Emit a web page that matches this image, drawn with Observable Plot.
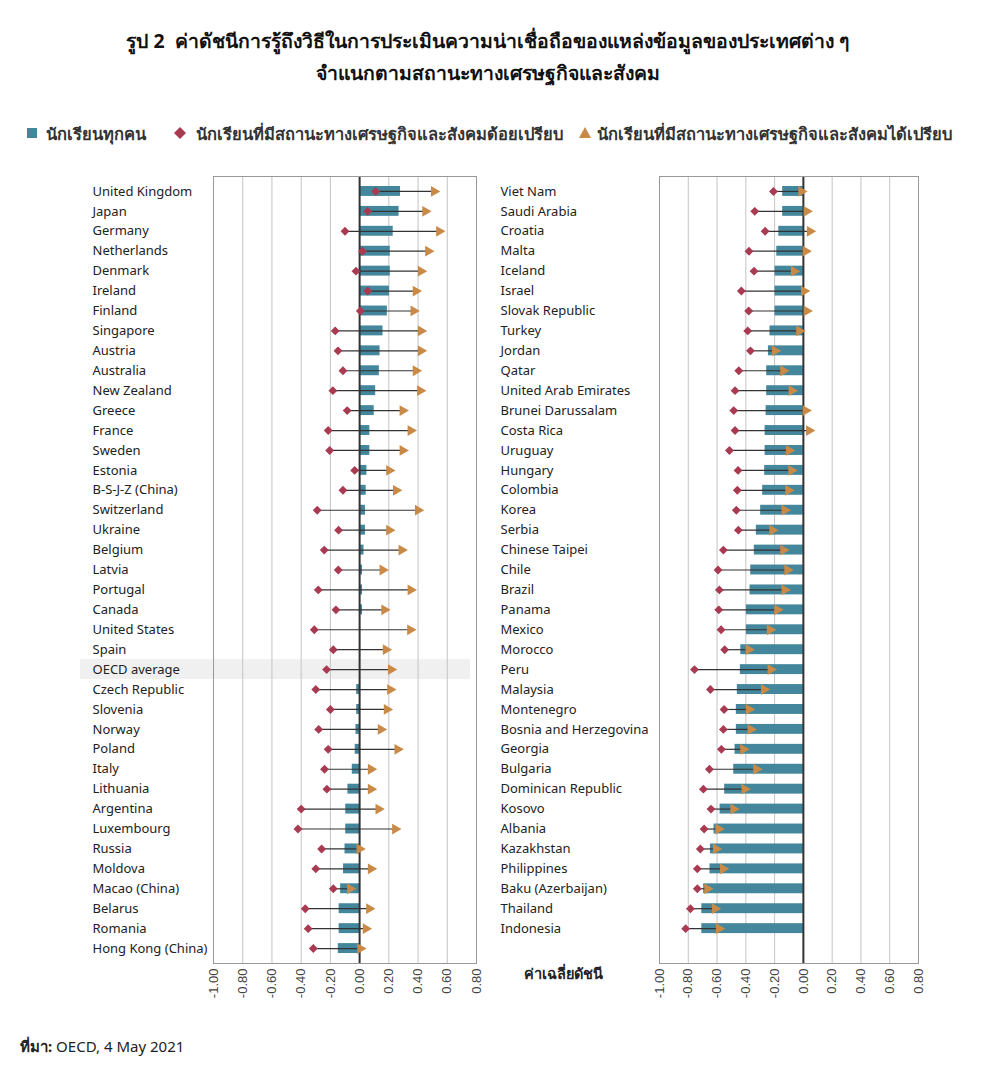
<!DOCTYPE html>
<html><head><meta charset="utf-8">
<script src="https://cdn.jsdelivr.net/npm/d3@7"></script>
<script src="https://cdn.jsdelivr.net/npm/@observablehq/plot@0.6"></script>
<style>
body{margin:0;background:#fff;font-family:"Noto Sans",sans-serif;color:#222;}
#wrap{position:relative;width:999px;height:1077px;overflow:hidden;}
.title{position:absolute;left:0;width:975px;text-align:center;font-weight:bold;font-size:19.4px;color:#111;white-space:nowrap;}
.lg{position:absolute;top:121px;font-size:16.5px;font-weight:600;color:#333;white-space:nowrap;}
.sw{position:absolute;}
</style></head><body>
<div id="wrap">
<div class="title" style="top:26px">รูป 2&nbsp; ค่าดัชนีการรู้ถึงวิธีในการประเมินความน่าเชื่อถือของแหล่งข้อมูลของประเทศต่าง ๆ</div>
<div class="title" style="top:58px">จำแนกตามสถานะทางเศรษฐกิจและสังคม</div>
<svg class="sw" style="left:26px;top:127px" width="12" height="12"><rect x="1" y="1" width="10" height="10" fill="#44879c"/></svg>
<div class="lg" style="left:46px">นักเรียนทุกคน</div>
<svg class="sw" style="left:173px;top:126px" width="14" height="14"><path d="M7,1L13,7L7,13L1,7Z" fill="#a83a52"/></svg>
<div class="lg" style="left:196px">นักเรียนที่มีสถานะทางเศรษฐกิจและสังคมด้อยเปรียบ</div>
<svg class="sw" style="left:578px;top:126px" width="14" height="13"><path d="M7,1L13,12L1,12Z" fill="#c98a47"/></svg>
<div class="lg" style="left:597px">นักเรียนที่มีสถานะทางเศรษฐกิจและสังคมได้เปรียบ</div>
<div id="left" style="position:absolute;left:0;top:170px"></div>
<div id="right" style="position:absolute;left:490px;top:170px"></div>
<div style="position:absolute;left:524px;top:962px;font-size:14.5px;font-weight:bold;color:#222">ค่าเฉลี่ยดัชนี</div>
<div style="position:absolute;left:20px;top:1035px;font-size:15px;color:#222"><b>ที่มา:</b> OECD, 4 May 2021</div>
</div>
<script>
const xTicks = [-1.0,-0.8,-0.6,-0.4,-0.2,0.0,0.2,0.4,0.6,0.8];

const leftCountries = ["United Kingdom","Japan","Germany","Netherlands","Denmark","Ireland","Finland","Singapore","Austria","Australia","New Zealand","Greece","France","Sweden","Estonia","B-S-J-Z (China)","Switzerland","Ukraine","Belgium","Latvia","Portugal","Canada","United States","Spain","OECD average","Czech Republic","Slovenia","Norway","Poland","Italy","Lithuania","Argentina","Luxembourg","Russia","Moldova","Macao (China)","Belarus","Romania","Hong Kong (China)"];
const leftAll = [0.28,0.27,0.23,0.21,0.21,0.205,0.19,0.16,0.14,0.135,0.11,0.10,0.07,0.07,0.05,0.045,0.04,0.04,0.03,0.02,0.02,0.02,0.005,0.0,0.0,-0.02,-0.02,-0.025,-0.03,-0.05,-0.08,-0.095,-0.095,-0.10,-0.11,-0.13,-0.14,-0.14,-0.146];
const leftDis = [0.11,0.055,-0.10,0.02,-0.025,0.055,0.005,-0.167,-0.148,-0.114,-0.183,-0.085,-0.215,-0.205,-0.034,-0.114,-0.29,-0.144,-0.242,-0.146,-0.283,-0.162,-0.31,-0.18,-0.226,-0.30,-0.20,-0.28,-0.215,-0.24,-0.224,-0.40,-0.422,-0.26,-0.30,-0.18,-0.372,-0.352,-0.317];
const leftAdv = [0.51,0.45,0.545,0.47,0.42,0.385,0.37,0.42,0.42,0.385,0.415,0.295,0.35,0.295,0.203,0.25,0.40,0.203,0.288,0.158,0.35,0.17,0.347,0.18,0.215,0.21,0.187,0.146,0.26,0.078,0.078,0.13,0.244,0.0,0.078,-0.064,0.066,0.043,0.005];

const rightCountries = ["Viet Nam","Saudi Arabia","Croatia","Malta","Iceland","Israel","Slovak Republic","Turkey","Jordan","Qatar","United Arab Emirates","Brunei Darussalam","Costa Rica","Uruguay","Hungary","Colombia","Korea","Serbia","Chinese Taipei","Chile","Brazil","Panama","Mexico","Morocco","Peru","Malaysia","Montenegro","Bosnia and Herzegovina","Georgia","Bulgaria","Dominican Republic","Kosovo","Albania","Kazakhstan","Philippines","Baku (Azerbaijan)","Thailand","Indonesia"];
const rightAll = [-0.144,-0.144,-0.171,-0.185,-0.197,-0.197,-0.197,-0.232,-0.243,-0.255,-0.255,-0.259,-0.266,-0.266,-0.269,-0.283,-0.297,-0.327,-0.341,-0.366,-0.371,-0.396,-0.396,-0.435,-0.438,-0.459,-0.466,-0.466,-0.475,-0.484,-0.547,-0.579,-0.621,-0.646,-0.649,-0.693,-0.706,-0.706];
const rightDis = [-0.208,-0.338,-0.266,-0.378,-0.343,-0.431,-0.38,-0.387,-0.368,-0.449,-0.475,-0.484,-0.475,-0.514,-0.454,-0.459,-0.466,-0.452,-0.556,-0.593,-0.584,-0.588,-0.572,-0.547,-0.757,-0.646,-0.551,-0.556,-0.57,-0.653,-0.695,-0.642,-0.69,-0.716,-0.737,-0.737,-0.785,-0.818];
const rightAdv = [-0.014,0.023,0.046,0.016,-0.065,0.005,0.023,-0.028,-0.197,-0.139,-0.081,0.016,0.04,-0.10,-0.083,-0.104,-0.13,-0.215,-0.139,-0.111,-0.13,-0.181,-0.232,-0.38,-0.227,-0.273,-0.378,-0.366,-0.417,-0.327,-0.408,-0.486,-0.59,-0.607,-0.558,-0.667,-0.614,-0.586];

const highlightRow = "OECD average";

function panel(names, all, dis, adv, m) {
  const rows = names.map((n, i) => ({name: n, all: all[i], dis: dis[i], adv: adv[i]}));
  const domain = names.slice();
  let k = 1;
  while (domain.length < 39) domain.push(" ".repeat(k++));
  const hl = names.includes(highlightRow) ? [highlightRow] : [];
  return Plot.plot({
    width: m.width, height: 838,
    marginLeft: m.left, marginRight: m.right, marginTop: 6, marginBottom: 45,
    x: {domain: [-1, 0.8]},
    y: {domain, type: "band", paddingInner: 0, paddingOuter: 0.25},
    style: {fontFamily: "'Noto Sans', sans-serif", fontSize: "13px", color: "#222", background: "transparent", overflow: "visible"},
    marks: [
      Plot.barX(hl, {x1: -1, x2: 0.8, y: d => d, fill: "#f0f0f0", insetLeft: -133, insetRight: 6}),
      Plot.gridX(xTicks, {stroke: "#c4c4c4", strokeOpacity: 1, strokeWidth: 1}),
      Plot.barX(rows, {x1: 0, x2: "all", y: "name", fill: "#44879c", insetTop: 5, insetBottom: 5}),
      Plot.ruleX([0], {stroke: "#333", strokeWidth: 2}),
      Plot.link(rows, {x1: "dis", x2: "adv", y1: "name", y2: "name", stroke: "#333", strokeWidth: 1.2}),
      Plot.dot(rows, {x: "adv", y: "name", symbol: "triangle", rotate: 90, r: 4, fill: "#c98a47", stroke: null}),
      Plot.dot(rows, {x: "dis", y: "name", symbol: "diamond2", r: 4, fill: "#a83a52", stroke: null}),
      Plot.frame({stroke: "#999"}),
      Plot.axisX(xTicks, {tickRotate: -90, tickSize: 0, tickPadding: 5, tickFormat: d => d.toFixed(2), fontFamily: "'Liberation Sans', Arial, sans-serif", fontSize: 13, fill: "#444", label: null}),
      Plot.axisY({textAnchor: "start", tickSize: 0, tickPadding: m.pad, fontSize: 13, fill: "#222", label: null})
    ]
  });
}

document.getElementById("left").append(panel(leftCountries, leftAll, leftDis, leftAdv, {width: 490, left: 213, right: 14, pad: 121}));
document.getElementById("right").append(panel(rightCountries, rightAll, rightDis, rightAdv, {width: 509, left: 169, right: 81, pad: 159}));
</script>
</body></html>
